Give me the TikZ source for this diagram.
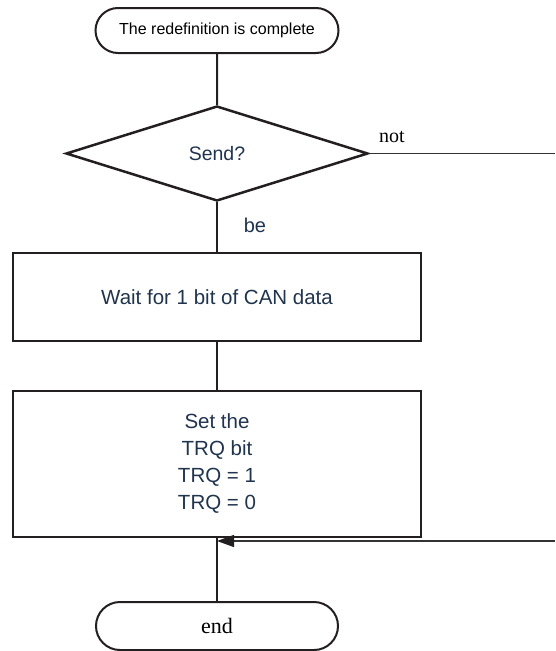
\documentclass[tikz,border=0pt]{standalone}
\usepackage{fontspec}
\setmainfont{Liberation Sans}
\newfontfamily\tnr{Liberation Serif}
\usetikzlibrary{shapes.geometric,shapes.misc,arrows.meta}
\definecolor{txt}{RGB}{32,52,78}
\definecolor{ink}{RGB}{35,31,32}
\begin{document}
\begin{tikzpicture}[x=1pt,y=1pt,
  term/.style={rounded rectangle, draw=ink, line width=2pt, minimum width=243pt, minimum height=45pt, inner sep=0pt, font=\fontsize{16}{19}\selectfont},
  decision/.style={diamond, draw=ink, line width=2.5pt, minimum width=302pt, minimum height=95pt, inner sep=0pt, text=txt, font=\fontsize{19.5}{23}\selectfont},
  proc/.style={rectangle, draw=ink, line width=2.8pt, minimum width=408pt, inner sep=0pt, text=txt, align=center, font=\fontsize{20.5}{27}\selectfont},
  conn/.style={draw=ink, line width=2pt},
  side/.style={draw=black!80, line width=1.3pt},
  lbl/.style={inner sep=0pt}]
\useasboundingbox (0,0) rectangle (555,-651);
\node[term] (start) at (217,-30.5) {The redefinition is complete};
\node[decision] (dec) at (217,-153.5) {Send?};
\node[proc, minimum height=88pt] (box1) at (217,-297) {Wait for 1 bit of CAN data};
\node[proc, minimum height=146pt] (box2) at (217,-464) {Set the\\TRQ bit\\TRQ = 1\\TRQ = 0};
\node[term, font=\tnr\fontsize{22}{26}\selectfont, minimum height=48pt, minimum width=242pt] (stop) at (217,-626) {end};
\node[lbl, text=txt, font=\fontsize{20}{24}\selectfont] (be) at (255,-225) {be};
\node[lbl, font=\tnr\fontsize{20}{24}\selectfont] (not) at (392,-137) {not};
\coordinate (r1) at (555,-153.5);
\coordinate (r2) at (555,-541);
\coordinate (j) at (217,-541);
\draw[conn] (start) -- (dec);
\draw[conn] (dec) -- (box1);
\draw[conn] (box1) -- (box2);
\draw[conn] (box2) -- (stop);
\draw[side] (dec.east) -- (r1);
\draw[side, -{Triangle[length=17pt,width=12pt,fill=ink,color=ink]}] (r2) -- (j);
\end{tikzpicture}
\end{document}
